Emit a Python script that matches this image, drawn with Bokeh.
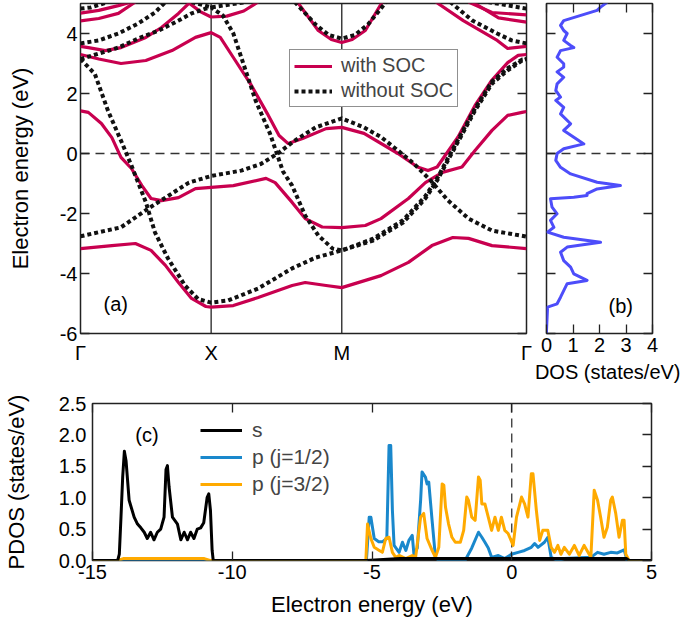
from bokeh.plotting import figure
from bokeh.models import (Range1d, LinearAxis, FixedTicker, Span, Label, Title,
                          Legend, LegendItem)
from bokeh.layouts import column, row
from bokeh.embed import file_html
from bokeh.resources import INLINE

FONT = "Liberation Sans"
RED = "#c8004f"
DOTC = "#111111"
DOSBLUE = "#4d4dfa"
PBLUE = "#1a88cc"
PORANGE = "#ffaa00"
FRAME = "#222222"

# ---------------- data ----------------
K_END = 3.414
KPATH_TICKS = [0.0, 1.0, 2.0, 3.414]
KPATH_LABELS = ["Γ", "X", "M", "Γ"]
E_TICKS = [-6, -4, -2, 0, 2, 4]
E_LABELS = ["-6", "-4", "-2", "0", "2", "4"]
DOS_TICKS = [0, 1, 2, 3, 4]
DOS_LABELS = ["0", "1", "2", "3", "4"]
PE_TICKS = [-15, -10, -5, 0, 5]
PE_LABELS = ["-15", "-10", "-5", "0", "5"]
PD_TICKS = [0.0, 0.5, 1.0, 1.5, 2.0, 2.5]
PD_LABELS = ["0.0", "0.5", "1.0", "1.5", "2.0", "2.5"]

# with SOC bands
R1_k = [0.00, 0.14, 0.31, 0.50, 0.70, 0.88, 1.00, 1.07, 1.17, 1.30, 1.43, 1.52, 1.59, 1.70, 1.88, 2.00, 2.17, 2.43, 2.58, 2.66, 2.73, 2.89, 3.02, 3.15, 3.27, 3.35, 3.414]
R1_E = [3.30, 3.15, 3.00, 3.10, 3.43, 3.87, 4.03, 3.87, 3.20, 2.33, 1.33, 0.60, 0.33, 0.50, 0.83, 0.87, 0.67, 0.00, -0.45, -0.57, -0.45, 0.55, 1.60, 2.45, 3.03, 3.27, 3.30]
R2_k = [0.00, 0.06, 0.16, 0.24, 0.31, 0.39, 0.47, 0.54, 0.62, 0.75, 0.88, 1.00, 1.17, 1.42, 1.49, 1.62, 1.72, 1.85, 2.00, 2.18, 2.30, 2.51, 2.64, 2.77, 2.92, 3.02, 3.15, 3.27, 3.38, 3.414]
R2_E = [1.42, 1.37, 1.00, 0.53, -0.13, -0.50, -1.07, -1.50, -1.57, -1.47, -1.17, -1.13, -1.07, -0.83, -0.97, -1.63, -2.17, -2.45, -2.47, -2.40, -2.17, -1.50, -0.97, -0.63, -0.45, 0.10, 0.77, 1.27, 1.37, 1.40]
R3_k = [0.00, 0.24, 0.42, 0.54, 0.65, 0.75, 0.85, 0.96, 1.00, 1.17, 1.36, 1.62, 1.72, 1.88, 2.00, 2.30, 2.51, 2.69, 2.85, 2.97, 3.15, 3.414]
R3_E = [-3.17, -3.07, -3.00, -3.23, -3.73, -4.30, -4.83, -5.10, -5.12, -5.07, -4.80, -4.40, -4.30, -4.40, -4.47, -4.07, -3.63, -3.07, -2.80, -2.83, -3.07, -3.17]
R4a_k = [0.00, 0.06, 0.19, 0.31, 0.50, 0.62, 0.75, 0.84]
R4a_E = [3.57, 3.53, 3.43, 3.53, 3.87, 4.20, 4.67, 5.05]
R4b_k = [2.72, 2.93, 3.19, 3.27, 3.414]
R4b_E = [5.05, 4.43, 3.77, 3.50, 3.57]
R5a_k = [0.00, 0.14, 0.29, 0.39]
R5a_E = [4.68, 4.77, 4.93, 5.05]
R5b_k = [2.97, 3.15, 3.414]
R5b_E = [5.05, 4.70, 4.62]
R6a_k = [0.00, 0.14, 0.29, 0.42]
R6a_E = [4.42, 4.50, 4.67, 5.05]
R6b_k = [3.00, 3.20, 3.414]
R6b_E = [5.05, 4.52, 4.38]
RX_k = [0.82, 0.92, 1.00, 1.12, 1.25, 1.36]
RX_E = [5.05, 4.72, 4.55, 4.58, 4.75, 5.05]
RM_k = [1.66, 1.82, 1.92, 2.00, 2.08, 2.18, 2.31]
RM_E = [5.05, 4.10, 3.80, 3.70, 3.80, 4.10, 5.05]

# without SOC bands
D1_k = [0.00, 0.31, 0.52, 0.64, 0.83, 1.00, 1.23, 1.38, 1.51, 1.63, 1.80, 2.00, 2.17, 2.30, 2.43, 2.55, 2.68, 2.81, 2.97, 3.15, 3.414]
D1_E = [-2.76, -2.46, -1.83, -1.50, -0.97, -0.75, -0.57, -0.35, 0.00, 0.40, 0.87, 1.17, 0.87, 0.55, 0.10, -0.33, -0.90, -1.55, -2.17, -2.57, -2.77]
D2_k = [0.00, 0.11, 0.21, 0.31, 0.39, 0.50, 0.57, 0.67, 0.80, 0.90, 1.00, 1.13, 1.36, 1.62, 1.80, 2.00, 2.24, 2.47, 2.64, 2.74, 2.77, 2.95, 3.02, 3.15, 3.27, 3.38, 3.414]
D2_E = [3.15, 2.65, 1.43, 0.43, -0.40, -1.62, -2.63, -3.50, -4.40, -4.85, -4.97, -4.90, -4.50, -3.83, -3.47, -3.23, -2.90, -2.30, -1.50, -0.83, -0.57, 0.87, 1.43, 2.33, 2.77, 3.10, 3.15]
D3_k = [0.00, 0.14, 0.29, 0.44, 0.60, 0.75, 0.85, 0.96, 1.00, 1.09, 1.17, 1.34, 1.45, 1.55, 1.62, 1.72, 1.82, 1.93, 2.00, 2.24, 2.47, 2.64, 2.74, 2.77, 2.95, 3.02, 3.15, 3.27, 3.38, 3.414]
D3_E = [3.15, 3.33, 3.53, 3.83, 4.10, 4.43, 4.67, 4.83, 4.87, 4.60, 4.00, 1.77, 0.67, -0.60, -1.07, -2.07, -2.73, -3.17, -3.23, -2.84, -2.22, -1.42, -0.76, -0.50, 0.94, 1.50, 2.40, 2.84, 3.13, 3.15]
D4a_k = [0.00, 0.14, 0.29, 0.44, 0.57, 0.65]
D4a_E = [3.67, 3.77, 4.00, 4.33, 4.70, 5.05]
D4b_k = [2.83, 3.00, 3.19, 3.30, 3.414]
D4b_E = [5.05, 4.43, 4.00, 3.77, 3.67]
D6a_k = [0.00, 0.08, 0.21]
D6a_E = [4.83, 4.87, 5.05]
D6b_k = [3.12, 3.414]
D6b_E = [5.05, 4.83]
D7_k = [0.85, 1.00, 1.27]
D7_E = [5.05, 4.87, 5.05]
DM_k = [1.64, 1.80, 1.90, 2.00, 2.10, 2.20, 2.34]
DM_E = [5.05, 4.30, 3.95, 3.83, 3.95, 4.30, 5.05]

# total DOS (panel b)
DOS_E = [5.04, 4.88, 4.77, 4.43, 4.27, 4.10, 4.00, 3.77, 3.60, 3.53, 3.43, 3.21, 2.99, 2.88, 2.72, 2.54, 2.32, 2.10, 1.88, 1.77, 1.54, 1.32, 0.99, 0.77, 0.54, 0.32, 0.16, 0.00, -0.23, -0.46, -0.68, -0.96, -1.07, -1.18, -1.34, -1.40, -1.46, -1.51, -1.79, -2.01, -2.23, -2.46, -2.62, -2.79, -2.96, -3.12, -3.29, -3.57, -3.79, -4.01, -4.23, -4.34, -4.57, -4.79, -5.01, -5.12, -5.90, -6.00]
DOS_V = [2.29, 2.04, 1.91, 0.65, 0.53, 0.65, 0.78, 0.65, 0.91, 1.03, 0.53, 0.40, 0.65, 0.65, 0.40, 0.65, 0.40, 0.35, 0.53, 0.35, 0.65, 0.53, 0.91, 0.65, 1.03, 1.41, 0.65, 0.40, 0.35, 0.53, 0.91, 1.91, 2.79, 1.91, 1.53, 1.53, 1.03, 0.15, 0.21, 0.40, 0.15, 0.28, 0.04, 0.65, 2.04, 0.78, 0.53, 0.65, 0.91, 1.03, 1.53, 0.78, 0.65, 0.53, 0.40, 0.04, 0.00, 0.00]

# PDOS (panel c)
S_E = [-15.0, -14.10, -14.04, -13.98, -13.92, -13.86, -13.80, -13.69, -13.51, -13.39, -13.27, -13.15, -13.04, -12.92, -12.80, -12.68, -12.56, -12.44, -12.37, -12.32, -12.26, -12.14, -11.96, -11.84, -11.72, -11.60, -11.49, -11.37, -11.25, -11.13, -11.02, -10.90, -10.84, -10.78, -10.72, -10.68, -10.0, -5.2, -4.0, -2.0, 0.0, 2.0, 4.1, 4.2, 5.0]
S_V = [0.0, 0.0, 0.10, 0.70, 1.33, 1.74, 1.59, 0.96, 0.69, 0.58, 0.52, 0.45, 0.35, 0.45, 0.33, 0.45, 0.50, 0.69, 1.45, 1.51, 1.17, 0.69, 0.58, 0.33, 0.45, 0.33, 0.45, 0.35, 0.50, 0.52, 0.60, 1.00, 1.06, 0.80, 0.16, 0.0, 0.0, 0.0, 0.03, 0.03, 0.03, 0.03, 0.03, 0.0, 0.0]
P1_E = [-15.0, -5.20, -5.10, -5.04, -4.92, -4.76, -4.62, -4.47, -4.39, -4.33, -4.27, -4.21, -4.03, -3.91, -3.79, -3.68, -3.56, -3.50, -3.38, -3.26, -3.21, -3.09, -3.03, -2.97, -2.85, -2.73, -2.61, -2.00, -1.67, -1.43, -1.19, -1.07, -0.96, -0.84, -0.72, -0.48, -0.25, -0.01, 0.23, 0.46, 0.70, 0.82, 0.94, 1.17, 1.29, 1.41, 1.65, 1.88, 2.83, 3.07, 3.30, 3.54, 3.78, 4.02, 4.13, 5.0]
P1_V = [0.0, 0.0, 0.69, 0.69, 0.35, 0.30, 0.30, 0.35, 1.83, 1.83, 0.80, 0.24, 0.13, 0.29, 0.16, 0.32, 0.40, 0.10, 0.20, 0.96, 1.41, 1.33, 1.22, 1.25, 0.64, 0.05, 0.0, 0.02, 0.0, 0.20, 0.45, 0.37, 0.29, 0.20, 0.05, 0.08, 0.03, 0.10, 0.13, 0.16, 0.21, 0.27, 0.21, 0.29, 0.37, 0.05, 0.0, 0.03, 0.05, 0.13, 0.10, 0.13, 0.12, 0.17, 0.0, 0.0]
P3_E = [-15.0, -14.1, -13.9, -11.0, -10.8, -5.22, -5.16, -5.04, -4.92, -4.74, -4.63, -4.51, -4.39, -4.27, -4.15, -4.03, -3.79, -3.56, -3.44, -3.26, -3.15, -3.03, -2.85, -2.73, -2.61, -2.49, -2.43, -2.37, -2.26, -2.14, -2.02, -1.84, -1.72, -1.61, -1.55, -1.43, -1.31, -1.19, -1.13, -1.07, -0.96, -0.84, -0.72, -0.60, -0.48, -0.37, -0.25, -0.13, 0.05, 0.17, 0.35, 0.46, 0.58, 0.70, 0.76, 0.88, 1.00, 1.11, 1.29, 1.41, 1.53, 1.65, 1.76, 1.88, 2.06, 2.24, 2.41, 2.59, 2.83, 2.95, 3.07, 3.18, 3.30, 3.42, 3.54, 3.60, 3.72, 3.84, 3.96, 4.02, 4.08, 4.20, 5.0]
P3_V = [0.0, 0.0, 0.03, 0.03, 0.0, 0.0, 0.58, 0.35, 0.21, 0.16, 0.13, 0.35, 0.37, 0.13, 0.05, 0.08, 0.03, 0.08, 0.05, 0.69, 0.75, 0.35, 0.16, 0.05, 0.21, 1.22, 1.20, 0.85, 0.58, 0.37, 0.29, 0.29, 0.48, 1.01, 0.96, 0.69, 0.64, 1.33, 1.28, 0.90, 0.90, 0.69, 0.48, 0.69, 0.48, 0.69, 0.48, 0.43, 0.24, 0.69, 1.01, 0.90, 0.69, 1.38, 1.38, 0.80, 0.32, 0.48, 0.48, 0.21, 0.13, 0.24, 0.10, 0.21, 0.10, 0.24, 0.08, 0.24, 0.05, 1.12, 0.96, 0.69, 0.37, 0.53, 0.96, 1.01, 0.75, 0.37, 0.64, 0.64, 0.10, 0.0, 0.0]

RED_BANDS = [(R1_k, R1_E), (R2_k, R2_E), (R3_k, R3_E), (R4a_k, R4a_E), (R4b_k, R4b_E),
             (R5a_k, R5a_E), (R5b_k, R5b_E), (R6a_k, R6a_E), (R6b_k, R6b_E),
             (RX_k, RX_E), (RM_k, RM_E)]
DOT_BANDS = [(D1_k, D1_E), (D2_k, D2_E), (D3_k, D3_E), (D4a_k, D4a_E), (D4b_k, D4b_E),
             (D6a_k, D6a_E), (D6b_k, D6b_E), (D7_k, D7_E), (DM_k, DM_E)]
for a, b in RED_BANDS + DOT_BANDS + [(DOS_E, DOS_V), (S_E, S_V), (P1_E, P1_V), (P3_E, P3_V)]:
    assert len(a) == len(b), (len(a), len(b))


# ---------------- helpers ----------------
def make_fig(width, height, xr, yr, mbl, mbr, mbt, mbb):
    p = figure(width=width, height=height, x_range=Range1d(*xr), y_range=Range1d(*yr),
               output_backend="svg", toolbar_location=None,
               x_axis_location=None, y_axis_location=None,
               min_border_left=mbl, min_border_right=mbr,
               min_border_top=mbt, min_border_bottom=mbb)
    p.grid.visible = False
    p.outline_line_color = FRAME
    p.outline_line_width = 1.5
    p.background_fill_color = "white"
    p.border_fill_color = "white"
    return p


def add_axis(p, side, ticks, labels=None, tick_len=9, standoff=3, title=None,
             title_standoff=5, title_size="22px"):
    ax = LinearAxis(ticker=FixedTicker(ticks=ticks))
    ax.axis_line_color = None
    ax.major_tick_in = tick_len
    ax.major_tick_out = 0
    ax.minor_tick_in = 0
    ax.minor_tick_out = 0
    ax.major_tick_line_color = FRAME if tick_len else None
    ax.major_tick_line_width = 1.3
    if labels:
        ax.major_label_overrides = dict(zip(ticks, labels))
        ax.major_label_text_font = FONT
        ax.major_label_text_font_size = "20px"
        ax.major_label_text_color = "black"
        ax.major_label_standoff = standoff
    else:
        ax.major_label_text_font_size = "0px"
        ax.major_label_text_color = None
        ax.major_label_standoff = 0
    if title:
        ax.axis_label = title
        ax.axis_label_text_font = FONT
        ax.axis_label_text_font_size = title_size
        ax.axis_label_text_font_style = "normal"
        ax.axis_label_text_color = "black"
        ax.axis_label_standoff = title_standoff
    p.add_layout(ax, side)
    return ax


# ---------------- panel (a) ----------------
pa = make_fig(534, 390, (0, K_END), (-6, 5), 80, 8, 3, 57)
add_axis(pa, "left", E_TICKS, E_LABELS, title="Electron energy (eV)", title_standoff=24)
add_axis(pa, "right", E_TICKS)
add_axis(pa, "below", KPATH_TICKS, KPATH_LABELS, tick_len=0, standoff=8)
pa.add_layout(Span(location=0, dimension="width", line_color="#333333", line_width=1.3,
                   line_dash="9 6", level="underlay"))
for kk in KPATH_TICKS[1:3]:
    pa.add_layout(Span(location=kk, dimension="height", line_color=FRAME, line_width=1.3,
                       level="underlay"))

red_r = None
for ks, es in RED_BANDS:
    r = pa.line(ks, es, line_color=RED, line_width=3.2, line_join="round")
    red_r = red_r or r
dot_r = None
for ks, es in DOT_BANDS:
    r = pa.line(ks, es, line_color=DOTC, line_width=4, line_dash="4 3")
    dot_r = dot_r or r

pa.add_layout(Label(x=0.27, y=-5.0, text="(a)", text_align="center", text_baseline="middle",
                    text_font=FONT, text_font_size="20px", text_color="black"))

leg_a = Legend(items=[LegendItem(label="with SOC", renderers=[red_r]),
                      LegendItem(label="without SOC", renderers=[dot_r])],
               location=(209, 226))
leg_a.label_text_font = FONT
leg_a.label_text_font_size = "20px"
leg_a.glyph_width = 38
leg_a.glyph_height = 22
leg_a.label_height = 22
leg_a.label_standoff = 9
leg_a.padding = 4
leg_a.spacing = 2
leg_a.margin = 0
leg_a.border_line_color = FRAME
leg_a.border_line_width = 1.2
leg_a.background_fill_color = "white"
leg_a.background_fill_alpha = 1.0
pa.add_layout(leg_a)

# ---------------- panel (b) ----------------
pb = make_fig(150, 390, (0, 4), (-6, 5), 12, 32, 3, 57)
add_axis(pb, "left", E_TICKS)
add_axis(pb, "right", E_TICKS)
add_axis(pb, "below", DOS_TICKS, DOS_LABELS, standoff=4)
add_axis(pb, "above", DOS_TICKS)
pb.add_layout(Title(text="DOS (states/eV)", align="right", offset=-28, standoff=9,
                    text_font=FONT, text_font_size="20px", text_font_style="normal",
                    text_color="black"), "below")
pb.add_layout(Span(location=0, dimension="width", line_color="#333333", line_width=1.3,
                   line_dash="9 6", level="underlay"))
pb.line(DOS_V, DOS_E, line_color=DOSBLUE, line_width=3, line_join="round")
pb.add_layout(Label(x=2.8, y=-5.07, text="(b)", text_align="center", text_baseline="middle",
                    text_font=FONT, text_font_size="20px", text_color="black"))

# ---------------- panel (c) ----------------
pc = make_fig(684, 230, (-15, 5), (0, 2.5), 88, 33, 13, 60)
add_axis(pc, "left", PD_TICKS, PD_LABELS, tick_len=0, standoff=6,
         title="PDOS (states/eV)", title_standoff=27)
add_axis(pc, "right", PD_TICKS)
add_axis(pc, "below", PE_TICKS, PE_LABELS, standoff=4,
         title="Electron energy (eV)", title_standoff=10)
add_axis(pc, "above", PE_TICKS)
pc.add_layout(Span(location=0, dimension="height", line_color="#333333", line_width=1.3,
                   line_dash="9 6", level="underlay"))
r_p1 = pc.line(P1_E, P1_V, line_color=PBLUE, line_width=3, line_join="round")
r_p3 = pc.line(P3_E, P3_V, line_color=PORANGE, line_width=3, line_join="round")
r_s = pc.line(S_E, S_V, line_color="black", line_width=3, line_join="round")

pc.add_layout(Label(x=-13.05, y=2.0, text="(c)", text_align="center", text_baseline="middle",
                    text_font=FONT, text_font_size="20px", text_color="black"))

leg_c = Legend(items=[LegendItem(label="s", renderers=[r_s]),
                      LegendItem(label="p (j=1/2)", renderers=[r_p1]),
                      LegendItem(label="p (j=3/2)", renderers=[r_p3])],
               location=(108, 64))
leg_c.label_text_font = FONT
leg_c.label_text_font_size = "21px"
leg_c.glyph_width = 42
leg_c.glyph_height = 24
leg_c.label_height = 24
leg_c.label_standoff = 10
leg_c.padding = 4
leg_c.spacing = 3
leg_c.margin = 0
leg_c.border_line_color = None
leg_c.background_fill_alpha = 0
pc.add_layout(leg_c)

layout = column(row(pa, pb), pc)
open("out.html", "w").write(file_html(layout, INLINE, "bands"))
